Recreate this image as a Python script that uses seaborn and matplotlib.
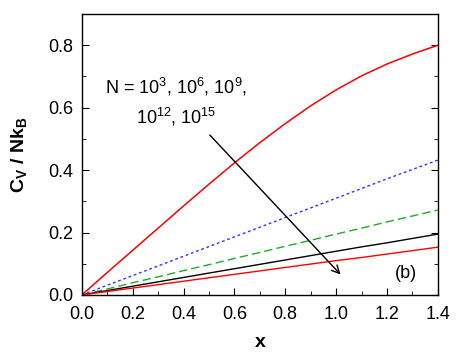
import numpy as np
import pandas as pd
import seaborn as sns
import matplotlib
matplotlib.use("Agg")
import matplotlib.pyplot as plt
from matplotlib.ticker import MultipleLocator

sns.set_style("ticks")
plt.rcParams['font.family'] = ['Liberation Sans', 'DejaVu Sans']
plt.rcParams['mathtext.fontset'] = 'custom'
plt.rcParams['mathtext.rm'] = 'Liberation Sans'
plt.rcParams['mathtext.it'] = 'Liberation Sans'
plt.rcParams['mathtext.bf'] = 'Liberation Sans:bold'
for k in ['text.color', 'axes.labelcolor', 'xtick.color', 'ytick.color', 'axes.edgecolor']:
    plt.rcParams[k] = 'black'

x_vals = [0.0, 0.1, 0.2, 0.3, 0.4, 0.5, 0.6, 0.7, 0.8, 0.9, 1.0, 1.1, 1.2, 1.3, 1.4]
n1e3 = [0.0, 0.072, 0.143, 0.214, 0.285, 0.355, 0.423, 0.488, 0.549, 0.606, 0.657, 0.702, 0.740, 0.772, 0.800]
n1e6 = [0.0, 0.031, 0.062, 0.093, 0.124, 0.155, 0.186, 0.217, 0.248, 0.279, 0.310, 0.341, 0.372, 0.402, 0.432]
n1e9 = [0.0, 0.019, 0.039, 0.058, 0.078, 0.097, 0.117, 0.136, 0.156, 0.175, 0.195, 0.214, 0.234, 0.253, 0.272]
n1e12 = [0.0, 0.014, 0.028, 0.042, 0.056, 0.070, 0.084, 0.098, 0.112, 0.126, 0.140, 0.154, 0.167, 0.181, 0.195]
n1e15 = [0.0, 0.011, 0.022, 0.033, 0.044, 0.055, 0.066, 0.077, 0.088, 0.099, 0.110, 0.120, 0.131, 0.142, 0.153]

series = [
    ("1e3", n1e3, "#ff0000", "-", 1.1),
    ("1e6", n1e6, "#3333ff", (0, (2, 2)), 1.0),
    ("1e9", n1e9, "#22aa22", (0, (6, 3)), 1.0),
    ("1e12", n1e12, "#000000", "-", 1.0),
    ("1e15", n1e15, "#ff0000", "-", 1.0),
]

fig, ax = plt.subplots(figsize=(4.57, 3.61), dpi=100)
for name, ys, color, ls, lw in series:
    df = pd.DataFrame({"x": x_vals, "y": ys})
    sns.lineplot(data=df, x="x", y="y", ax=ax, color=color, linestyle=ls, linewidth=lw)

ax.set_xlim(0, 1.4)
ax.set_ylim(0, 0.9)
ax.xaxis.set_major_locator(MultipleLocator(0.2))
ax.xaxis.set_minor_locator(MultipleLocator(0.1))
ax.yaxis.set_major_locator(MultipleLocator(0.2))
ax.yaxis.set_minor_locator(MultipleLocator(0.1))
ax.tick_params(which='both', direction='in', right=True, top=False, labelsize=13, colors='black')
ax.tick_params(which='major', length=5)
ax.tick_params(which='minor', length=3)
ax.tick_params(axis='x', which='major', pad=8)
ax.tick_params(axis='y', which='major', pad=6)
for s in ax.spines.values():
    s.set_linewidth(1.0)
    s.set_color('black')

ax.set_xlabel("x", fontsize=14, fontweight='bold', labelpad=8, color='black')
ax.set_ylabel(r"$\mathbf{C_V}$ / $\mathbf{Nk_B}$", fontsize=14, fontweight='bold', labelpad=14, color='black')

ax.text(0.09, 0.646, r"N = 10$^{3}$, 10$^{6}$, 10$^{9}$,", fontsize=13, color='black')
ax.text(0.215, 0.55, r"10$^{12}$, 10$^{15}$", fontsize=13, color='black')
ax.annotate("", xy=(1.025, 0.059), xytext=(0.496, 0.519),
            arrowprops=dict(arrowstyle="->", color="black", lw=1.0, mutation_scale=14))
ax.text(1.232, 0.054, "(b)", fontsize=13, color='black')

fig.subplots_adjust(left=0.179, right=0.958, top=0.961, bottom=0.183)
fig.savefig("out.png", dpi=100)
